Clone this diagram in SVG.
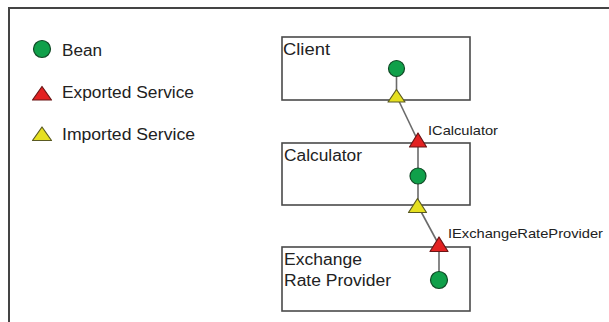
<svg xmlns="http://www.w3.org/2000/svg" width="609" height="322" viewBox="0 0 609 322">
<style>
text{font-family:"Liberation Sans",Arial,sans-serif;fill:#222}
.big{font-size:16px}
.small{font-size:13px}
.box{fill:none;stroke:#4a4a4a;stroke-width:1.6}
.bean{fill:#10a04a;stroke:#114a26;stroke-width:1.2}
.exp{fill:#e32222;stroke:#6a1515;stroke-width:1.2;stroke-linejoin:round}
.imp{fill:#e6e020;stroke:#5a5a22;stroke-width:1.2;stroke-linejoin:round}
.conn{fill:none;stroke:#6a6a6a;stroke-width:1.6}
</style>
<rect width="609" height="322" fill="#ffffff"/>
<path d="M9,322 V8 H609" fill="none" stroke="#444" stroke-width="2"/>
<g id="legend">
<g id="legend-bean"><circle class="bean" cx="42" cy="49" r="8.5"/><text class="big" x="62" y="56" textLength="40" lengthAdjust="spacingAndGlyphs">Bean</text></g>
<g id="legend-exported"><path class="exp" d="M42,86.5 L51.5,100 L32.5,100 Z"/><text class="big" x="62" y="98" textLength="132" lengthAdjust="spacingAndGlyphs">Exported Service</text></g>
<g id="legend-imported"><path class="imp" d="M42,127 L51.5,140.5 L32.5,140.5 Z"/><text class="big" x="62" y="140" textLength="133" lengthAdjust="spacingAndGlyphs">Imported Service</text></g>
</g>
<g id="connectors">
<line class="conn" x1="396.5" y1="68" x2="396.5" y2="95"/>
<line class="conn" x1="396.5" y1="96" x2="418" y2="141"/>
<line class="conn" x1="418" y1="141" x2="418" y2="206"/>
<line class="conn" x1="418" y1="206" x2="439" y2="245"/>
<line class="conn" x1="439" y1="245" x2="439" y2="280"/>
</g>
<g id="client">
<rect class="box" x="282" y="37" width="188" height="63"/>
<text class="big" x="283" y="55" textLength="47" lengthAdjust="spacingAndGlyphs">Client</text>
<circle class="bean" cx="396.5" cy="68.5" r="8"/>
<path class="imp" d="M396.5,89.5 L405,102 L388,102 Z"/>
</g>
<g id="calculator">
<rect class="box" x="282" y="143" width="188" height="62"/>
<text class="big" x="284" y="161" textLength="78" lengthAdjust="spacingAndGlyphs">Calculator</text>
<path class="exp" d="M418,133 L426.5,147 L409.5,147 Z"/>
<circle class="bean" cx="418" cy="176" r="8"/>
<path class="imp" d="M417.5,198.5 L426.5,212.5 L408.5,212.5 Z"/>
<text class="small" x="428" y="135" textLength="70" lengthAdjust="spacingAndGlyphs">ICalculator</text>
</g>
<g id="exchange">
<rect class="box" x="282" y="247" width="188" height="64"/>
<text class="big" x="284" y="265" textLength="78" lengthAdjust="spacingAndGlyphs">Exchange</text>
<text class="big" x="284" y="286" textLength="107" lengthAdjust="spacingAndGlyphs">Rate Provider</text>
<path class="exp" d="M439,237 L448,251.5 L430,251.5 Z"/>
<circle class="bean" cx="439" cy="280" r="8.5"/>
<text class="small" x="448" y="238" textLength="155" lengthAdjust="spacingAndGlyphs">IExchangeRateProvider</text>
</g>
</svg>
